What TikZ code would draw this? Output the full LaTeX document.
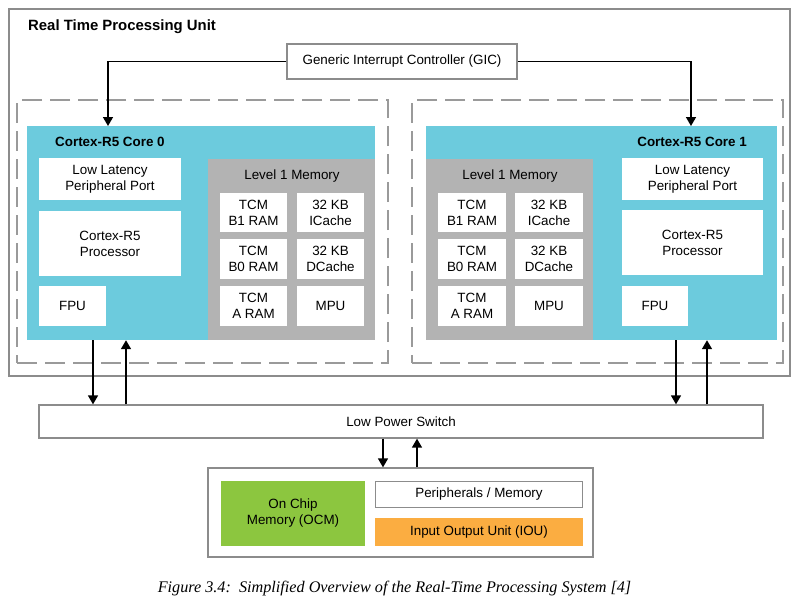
\documentclass[tikz,border=0pt]{standalone}
\usepackage{fontspec}
\setmainfont{Liberation Sans}
\newfontfamily\capfont{Liberation Serif}
\usetikzlibrary{arrows.meta}
\definecolor{corecyan}{HTML}{6CCBDD}
\definecolor{lonegray}{HTML}{B3B3B3}
\definecolor{bordergray}{HTML}{8C8C8C}
\definecolor{dashgray}{HTML}{9A9A9A}
\definecolor{ocmgreen}{HTML}{8CC63F}
\definecolor{iouorange}{HTML}{FBAD41}
\begin{document}
\begin{tikzpicture}[x=1pt,y=-1pt,
  every node/.style={font=\fontsize{13.4}{16}\selectfont, inner sep=0pt, align=center},
  outlinebox/.style={draw=bordergray, line width=1.3pt, fill=white},
  dashbox/.style={draw=dashgray, line width=1.3pt, dash pattern=on 20pt off 8pt},
  corebox/.style={fill=corecyan},
  memarea/.style={fill=lonegray},
  whitebox/.style={fill=white},
  titletext/.style={font=\fontsize{14.9}{17}\selectfont\bfseries},
  coretitle/.style={font=\fontsize{13.4}{16}\selectfont\bfseries},
  arr/.style={draw=black, line width=1.5pt, -{Triangle[width=10pt,length=9pt]}}
]
\useasboundingbox (0,0) rectangle (801,606);

% outer RPU box
\node[draw=bordergray, line width=1.3pt, minimum width=781pt, minimum height=367pt] (rpu) at (399.5,192.5) {};
\node[titletext, anchor=west] (rputitle) at (28,27) {Real Time Processing Unit};

% GIC
\node[outlinebox, minimum width=230pt, minimum height=35pt] (gic) at (402,61.5) {Generic Interrupt Controller (GIC)};

% dashed clusters
\node[dashbox, minimum width=371pt, minimum height=263pt] (dl) at (202.5,231.5) {};
\node[dashbox, minimum width=371pt, minimum height=263pt] (dr) at (597.5,231.5) {};

% cores
\node[corebox, minimum width=348pt, minimum height=214pt] (core0) at (201,233) {};
\node[corebox, minimum width=351pt, minimum height=214pt] (core1) at (601.5,233) {};
\node[coretitle, anchor=west] (c0t) at (55,142) {Cortex-R5 Core 0};
\node[coretitle, anchor=east] (c1t) at (747,142) {Cortex-R5 Core 1};

% level 1 memory areas
\node[memarea, minimum width=167pt, minimum height=181pt] (l1a) at (291.5,249.5) {};
\node[memarea, minimum width=167pt, minimum height=181pt] (l1b) at (509.5,249.5) {};
\node (l1at) at (292,176) {Level 1 Memory};
\node (l1bt) at (510,176) {Level 1 Memory};

% core 0 blocks
\node[whitebox, minimum width=142pt, minimum height=42pt] (llpp0) at (110,179) {Low Latency\\Peripheral Port};
\node[whitebox, minimum width=142pt, minimum height=65pt] (proc0) at (110,243.5) {Cortex-R5\\Processor};
\node[whitebox, minimum width=67pt, minimum height=40pt] (fpu0) at (72.5,306) {FPU};
\node[whitebox, minimum width=67pt, minimum height=39pt] (b1a) at (253.5,212.5) {TCM\\B1 RAM};
\node[whitebox, minimum width=67pt, minimum height=39pt] (ica) at (330.5,212.5) {32 KB\\ICache};
\node[whitebox, minimum width=67pt, minimum height=40pt] (b0a) at (253.5,259) {TCM\\B0 RAM};
\node[whitebox, minimum width=67pt, minimum height=40pt] (dca) at (330.5,259) {32 KB\\DCache};
\node[whitebox, minimum width=67pt, minimum height=40pt] (aa) at (253.5,306) {TCM\\A RAM};
\node[whitebox, minimum width=67pt, minimum height=40pt] (mpua) at (330.5,306) {MPU};

% core 1 blocks
\node[whitebox, minimum width=141pt, minimum height=42pt] (llpp1) at (692.5,179) {Low Latency\\Peripheral Port};
\node[whitebox, minimum width=141pt, minimum height=65pt] (proc1) at (692.5,242.5) {Cortex-R5\\Processor};
\node[whitebox, minimum width=66pt, minimum height=40pt] (fpu1) at (655,306) {FPU};
\node[whitebox, minimum width=68pt, minimum height=39pt] (b1b) at (472,212.5) {TCM\\B1 RAM};
\node[whitebox, minimum width=68pt, minimum height=39pt] (icb) at (549,212.5) {32 KB\\ICache};
\node[whitebox, minimum width=68pt, minimum height=40pt] (b0b) at (472,259) {TCM\\B0 RAM};
\node[whitebox, minimum width=68pt, minimum height=40pt] (dcb) at (549,259) {32 KB\\DCache};
\node[whitebox, minimum width=68pt, minimum height=40pt] (ab) at (472,306) {TCM\\A RAM};
\node[whitebox, minimum width=68pt, minimum height=40pt] (mpub) at (549,306) {MPU};

% low power switch
\node[outlinebox, minimum width=724pt, minimum height=33pt] (sw) at (401,421.5) {Low Power Switch};

% bottom subsystem
\node[outlinebox, minimum width=385pt, minimum height=89pt] (bot) at (400.5,512.5) {};
\node[fill=ocmgreen, minimum width=144pt, minimum height=65pt] (ocm) at (293,513.5) {On Chip\\Memory (OCM)};
\node[draw=bordergray, line width=1.3pt, fill=white, minimum width=207pt, minimum height=26pt] (per) at (479,494.5) {Peripherals / Memory};
\node[fill=iouorange, minimum width=208pt, minimum height=28pt] (iou) at (479,532) {Input Output Unit (IOU)};

% caption
\node[font=\capfont\itshape\fontsize{16.2}{18}\selectfont] (cap) at (394.5,589) {Figure 3.4:\ \ Simplified Overview of the Real-Time Processing System [4]};

% connector guide coordinates
\coordinate (g0) at (108,126);
\coordinate (g1) at (691,126);
\coordinate (xa) at (93,0);
\coordinate (xb) at (126,0);
\coordinate (xc) at (676,0);
\coordinate (xd) at (707,0);
\coordinate (xe) at (383,0);
\coordinate (xf) at (417,0);

% connectors
\draw[arr] (gic.west) -| (g0);
\draw[arr] (gic.east) -| (g1);
\draw[arr] (core0.south -| xa) -- (sw.north -| xa);
\draw[arr] (sw.north -| xb) -- (core0.south -| xb);
\draw[arr] (core1.south -| xc) -- (sw.north -| xc);
\draw[arr] (sw.north -| xd) -- (core1.south -| xd);
\draw[arr] (sw.south -| xe) -- (bot.north -| xe);
\draw[arr] (bot.north -| xf) -- (sw.south -| xf);
\end{tikzpicture}
\end{document}
